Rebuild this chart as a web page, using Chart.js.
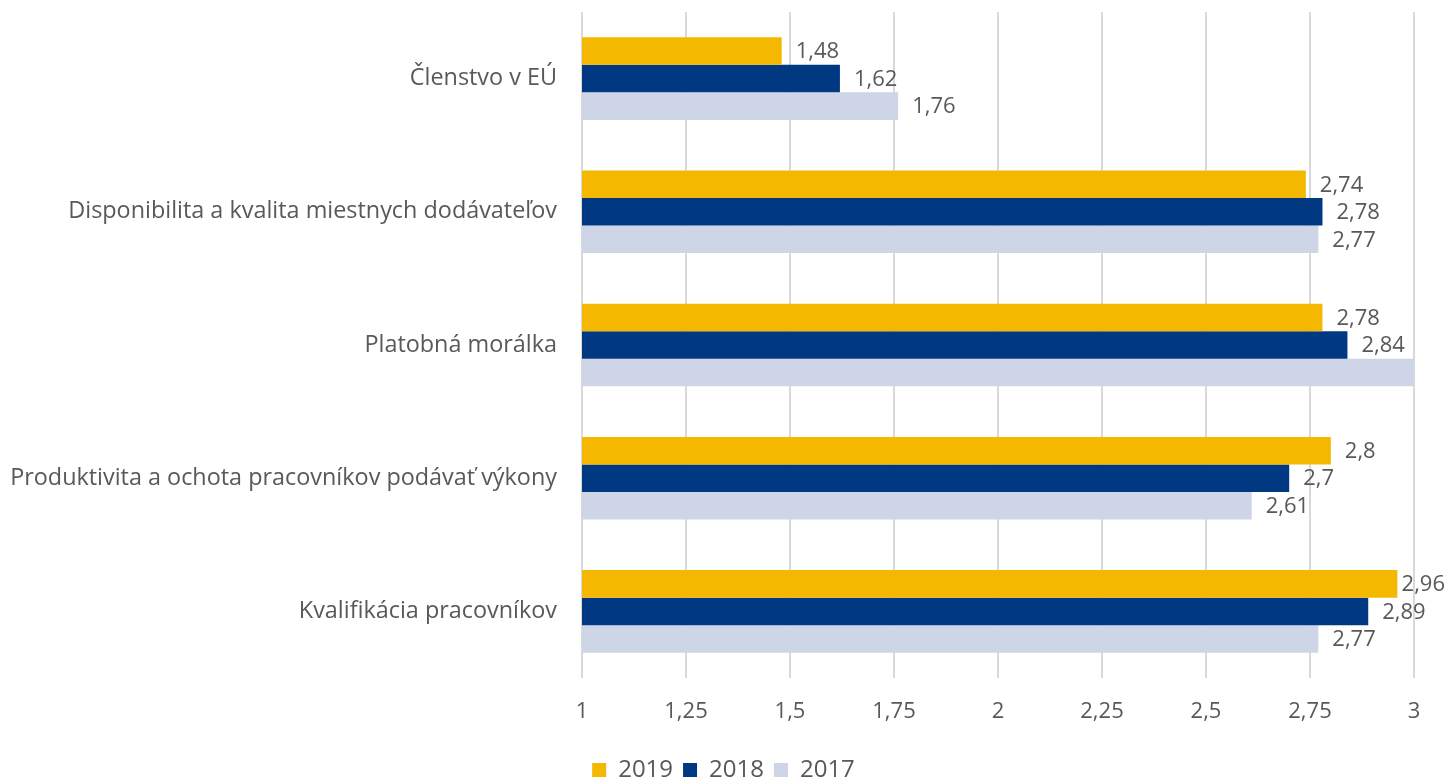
<!DOCTYPE html>
<html>
<head>
<meta charset="utf-8">
<script src="https://cdn.jsdelivr.net/npm/chart.js@4"></script>
<style>
  html, body { margin: 0; padding: 0; background: #fff; }
  #wrap { width: 1447px; height: 780px; }
</style>
</head>
<body>
<div id="wrap"><canvas id="barChart" width="1447" height="780"></canvas></div>
<script>
var categories = [
    'Členstvo v EÚ',
    'Disponibilita a kvalita miestnych dodávateľov',
    'Platobná morálka',
    'Produktivita a ochota pracovníkov podávať výkony',
    'Kvalifikácia pracovníkov'
];
var years = ['2019', '2018', '2017'];
var values2019 = [1.48, 2.74, 2.78, 2.8, 2.96];
var values2018 = [1.62, 2.78, 2.84, 2.7, 2.89];
var values2017 = [1.76, 2.77, 3.01, 2.61, 2.77];
var xTicks = [1, 1.25, 1.5, 1.75, 2, 2.25, 2.5, 2.75, 3];

var colors = ['#F5B800', '#003882', '#CED5E6'];
var textColor = '#595959';
var fontFamily = '"Open Sans", "Noto Sans", sans-serif';

function fmt(v) {
    return String(v).replace('.', ',');
}

// value labels right of the bar end (hidden if the bar runs past the axis)
var valueLabels = {
    id: 'valueLabels',
    afterDatasetsDraw: function (chart) {
        var ctx = chart.ctx;
        var xScale = chart.scales.x;
        ctx.save();
        ctx.font = '22px ' + fontFamily;
        ctx.fillStyle = textColor;
        ctx.textBaseline = 'middle';
        ctx.textAlign = 'left';
        chart.data.datasets.forEach(function (ds, i) {
            var meta = chart.getDatasetMeta(i);
            meta.data.forEach(function (bar, j) {
                var v = ds.data[j];
                if (v > xScale.max) return;
                var txt = fmt(v);
                var w = ctx.measureText(txt).width;
                var x = bar.x + 14;
                if (x + w > chart.width - 2) x = chart.width - 2 - w;
                ctx.fillText(txt, x, bar.y + 1);
            });
        });
        ctx.restore();
    }
};

var ctx = document.getElementById('barChart');
var barChart = new Chart(ctx, {
    type: 'bar',
    data: {
        labels: categories,
        datasets: [
            { label: years[0], data: values2019, backgroundColor: colors[0] },
            { label: years[1], data: values2018, backgroundColor: colors[1] },
            { label: years[2], data: values2017, backgroundColor: colors[2] }
        ]
    },
    options: {
        indexAxis: 'y',
        responsive: false,
        animation: false,
        categoryPercentage: 0.62,
        barPercentage: 1.0,
        layout: { padding: { top: 12, right: 0, left: 0, bottom: -12 } },
        scales: {
            x: {
                min: 1,
                max: 3,
                afterBuildTicks: function (scale) {
                    scale.ticks = xTicks.map(function (v) { return { value: v }; });
                },
                afterFit: function (scale) {
                    scale.height = 70;
                    scale.paddingRight = 33;
                },
                ticks: {
                    color: textColor,
                    font: { family: fontFamily, size: 22 },
                    padding: 21,
                    callback: function (v) { return fmt(v); }
                },
                grid: { color: '#D9D9D9', lineWidth: 2, drawTicks: false },
                border: { display: false }
            },
            y: {
                afterFit: function (scale) {
                    scale.width = 582;
                    scale.paddingTop = 0;
                    scale.paddingBottom = 0;
                },
                ticks: {
                    color: textColor,
                    font: { family: fontFamily, size: 23.4 },
                    padding: 17
                },
                grid: { display: false },
                border: { display: false }
            }
        },
        plugins: {
            legend: {
                position: 'bottom',
                labels: {
                    color: textColor,
                    font: { family: fontFamily, size: 24 },
                    boxWidth: 14,
                    boxHeight: 14,
                    padding: 10
                }
            },
            tooltip: { enabled: false }
        }
    },
    plugins: [valueLabels]
});
</script>
</body>
</html>
